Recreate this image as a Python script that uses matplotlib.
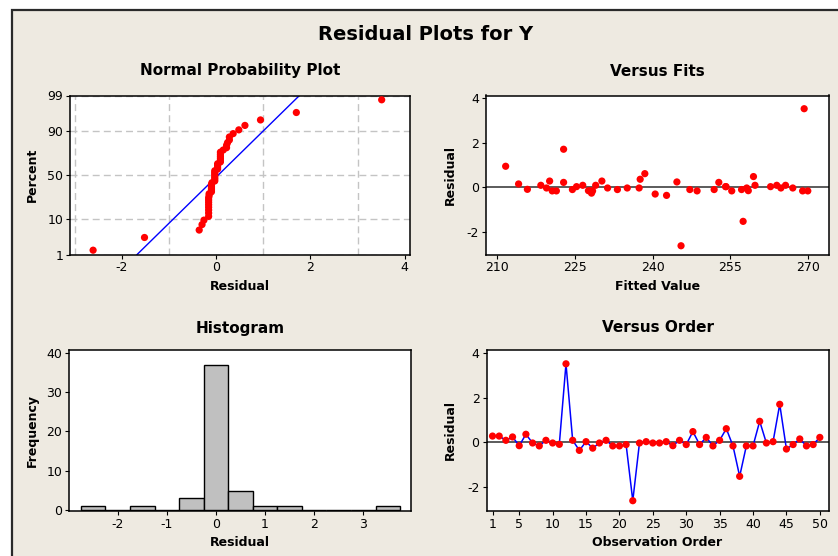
import numpy as np
import matplotlib
matplotlib.use("Agg")
import matplotlib.pyplot as plt
from matplotlib.patches import Rectangle
from statistics import NormalDist

# ---------------- data ----------------
order = list(range(1, 51))
residuals = [0.28, 0.28, 0.09, 0.24, -0.15, 0.36, -0.03, -0.16, 0.09, -0.03,
             -0.09, 3.51, 0.09, -0.36, 0.03, -0.26, -0.03, 0.09, -0.16, -0.16,
             -0.10, -2.61, -0.03, 0.03, -0.03, -0.03, 0.03, -0.15, 0.09, -0.10,
             0.48, -0.10, 0.22, -0.16, 0.09, 0.61, -0.16, -1.52, -0.16, -0.16,
             0.94, -0.03, 0.03, 1.70, -0.30, -0.10, 0.15, -0.16, -0.10, 0.22]
fitted = [220.1, 230.2, 218.4, 244.7, 258.5, 237.6, 219.5, 269.0, 226.5, 231.3,
          215.8, 269.3, 229.0, 242.7, 225.3, 228.2, 235.1, 259.8, 220.6, 221.4,
          224.5, 245.5, 237.4, 254.2, 258.2, 264.8, 262.8, 227.6, 264.0, 233.2,
          259.5, 247.2, 222.8, 228.0, 265.7, 238.5, 228.4, 257.5, 248.6, 255.3,
          211.6, 267.1, 254.1, 222.8, 240.5, 251.9, 214.1, 270.0, 257.2, 252.8]
hist_bin_edges = [-2.75, -2.25, -1.75, -1.25, -0.75, -0.25, 0.25, 0.75,
                  1.25, 1.75, 2.25, 2.75, 3.25, 3.75]
npp_yticks = [1, 10, 50, 90, 99]
npp_xticks = [-2, 0, 2, 4]
fits_xticks = [210, 225, 240, 255, 270]
order_xticks = [1, 5, 10, 15, 20, 25, 30, 35, 40, 45, 50]

# ---------------- style ----------------
W, H = 838, 556
BEIGE = "#EEEAE1"
RED = "#FF0000"
BLUE = "#0000FF"
plt.rcParams["font.family"] = ["DejaVu Sans"]
plt.rcParams["axes.unicode_minus"] = False
plt.rcParams["xtick.direction"] = "out"
plt.rcParams["ytick.direction"] = "out"
plt.rcParams["xtick.major.size"] = 3
plt.rcParams["ytick.major.size"] = 3
plt.rcParams["xtick.labelsize"] = 9
plt.rcParams["ytick.labelsize"] = 9
plt.rcParams["axes.linewidth"] = 1.1

fig = plt.figure(figsize=(W / 100, H / 100), dpi=100, facecolor="white")
fig.patches.append(Rectangle((12 / W, -0.01), 1.0, (H - 10) / H + 0.01,
                             transform=fig.transFigure, facecolor=BEIGE,
                             edgecolor="#2A2A2A", linewidth=1.6, zorder=-5))


def add_axes(x0, x1, y0, y1):
    return fig.add_axes([x0 / W, (H - y1) / H, (x1 - x0) / W, (y1 - y0) / H])


def label(ax, title, xlab, ylab, x0, x1, y0, y1, title_y, xlab_y, ylab_x):
    hgt = y1 - y0
    wid = x1 - x0
    ax.text(0.5, (y1 - title_y) / hgt, title, transform=ax.transAxes,
            ha="center", va="center", fontsize=11, fontweight="bold")
    ax.text(0.5, (y1 - xlab_y) / hgt, xlab, transform=ax.transAxes,
            ha="center", va="center", fontsize=9, fontweight="bold")
    ax.text((ylab_x - x0) / wid, 0.5, ylab, transform=ax.transAxes,
            ha="center", va="center", fontsize=9, fontweight="bold",
            rotation=90)


fig.text(426 / W, 1 - 35 / H, "Residual Plots for Y", ha="center",
         va="center", fontsize=14, fontweight="bold")

# ---------------- Normal probability plot ----------------
nd = NormalDist()


def fwd(p):
    p = np.clip(np.asarray(p, dtype=float), 1e-4, 100 - 1e-4) / 100.0
    return np.vectorize(nd.inv_cdf, otypes=[float])(p)


def inv(z):
    return np.vectorize(nd.cdf, otypes=[float])(np.asarray(z, dtype=float)) * 100.0


L1 = (70, 409.5, 95.5, 254.5)
ax1 = add_axes(*L1)
ax1.set_yscale("function", functions=(fwd, inv))
res_sorted = np.sort(np.asarray(residuals))
n = len(res_sorted)
pct = (np.arange(1, n + 1) - 0.3) / (n + 0.4) * 100
mu = float(np.mean(res_sorted))
sd = float(np.std(res_sorted, ddof=1))
line_pct = np.array([npp_yticks[0], npp_yticks[-1]], dtype=float)
line_x = mu + sd * fwd(line_pct)
ax1.set_xlim(-3.1, 4.1)
ax1.set_ylim(npp_yticks[0], npp_yticks[-1])
ax1.set_xticks(npp_xticks)
ax1.set_xticks(np.arange(-3, 5), minor=True)
ax1.set_yticks(npp_yticks)
ax1.set_yticklabels([str(v) for v in npp_yticks])
ax1.yaxis.set_minor_locator(matplotlib.ticker.NullLocator())
ax1.tick_params(which="minor", length=0)
ax1.grid(True, which="minor", axis="x", color="#C4C4C4", linestyle=(0, (5, 3)),
         linewidth=1.0)
ax1.grid(True, which="major", axis="y", color="#C4C4C4", linestyle=(0, (5, 3)),
         linewidth=1.0)
ax1.set_axisbelow(True)
ax1.plot(line_x, line_pct, color=BLUE, linewidth=1.0, zorder=2)
ax1.scatter(res_sorted, pct, s=27, color=RED, edgecolors="none", zorder=3,
            clip_on=False)
label(ax1, "Normal Probability Plot", "Residual", "Percent", *L1,
      title_y=71, xlab_y=287, ylab_x=32)

# ---------------- Versus fits ----------------
L2 = (486, 829, 95.5, 254.5)
ax2 = add_axes(*L2)
ax2.axhline(0, color="#404040", linewidth=1.2, zorder=1)
ax2.scatter(fitted, residuals, s=27, color=RED, edgecolors="none", zorder=3)
ax2.set_xlim(207.8, 274.1)
ax2.set_ylim(-3.0, 4.1)
ax2.set_xticks(fits_xticks)
ax2.set_yticks([-2, 0, 2, 4])
label(ax2, "Versus Fits", "Fitted Value", "Residual", *L2,
      title_y=71, xlab_y=287, ylab_x=450)

# ---------------- Histogram ----------------
L3 = (69, 411, 350, 511)
ax3 = add_axes(*L3)
ax3.hist(residuals, bins=hist_bin_edges, color="#C0C0C0", edgecolor="black",
         linewidth=1.0, zorder=2)
ax3.set_xlim(-2.99, 3.97)
ax3.set_ylim(-0.2, 40.7)
ax3.set_xticks([-2, -1, 0, 1, 2, 3])
ax3.set_yticks([0, 10, 20, 30, 40])
label(ax3, "Histogram", "Residual", "Frequency", *L3,
      title_y=328, xlab_y=543, ylab_x=32)

# ---------------- Versus order ----------------
L4 = (486.5, 828.5, 349.5, 511)
ax4 = add_axes(*L4)
ax4.axhline(0, color="#404040", linewidth=1.2, zorder=1)
ax4.plot(order, residuals, color=BLUE, linewidth=1.1, zorder=2)
ax4.scatter(order, residuals, s=27, color=RED, edgecolors="none", zorder=3)
ax4.set_xlim(0.1, 51.3)
ax4.set_ylim(-3.07, 4.15)
ax4.set_xticks(order_xticks)
ax4.set_yticks([-2, 0, 2, 4])
label(ax4, "Versus Order", "Observation Order", "Residual", *L4,
      title_y=328, xlab_y=543, ylab_x=450)

for ax in (ax1, ax2, ax3, ax4):
    ax.set_facecolor("white")
    for sp in ax.spines.values():
        sp.set_color("black")
    ax.tick_params(colors="black", pad=2)

fig.savefig("out.png", dpi=100, facecolor=fig.get_facecolor())
